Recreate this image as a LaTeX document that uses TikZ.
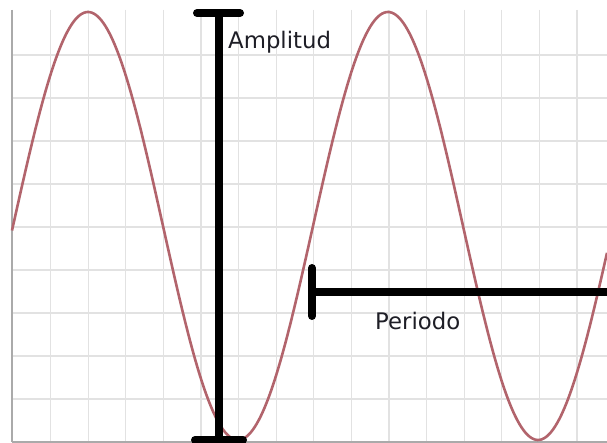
\documentclass[tikz,border=0pt]{standalone}
\usepackage{fontspec}
\setmainfont{DejaVu Sans}
\definecolor{wavecol}{RGB}{178,100,108}
\definecolor{gridcol}{RGB}{226,226,226}
\definecolor{bordercol}{RGB}{170,170,170}
\definecolor{txtcol}{RGB}{30,30,38}
\begin{document}
\begin{tikzpicture}[x=1pt,y=-1pt,
  gridline/.style={gridcol,line width=1.2pt},
  borderline/.style={bordercol,line width=1.5pt},
  wave/.style={wavecol,line width=2.6pt},
  bar/.style={black,line width=8pt},
  barcap/.style={black,line width=8pt,line cap=round},
  lbl/.style={text=txtcol,font=\fontsize{22.8}{26}\selectfont,anchor=base west,inner sep=0pt}]
\useasboundingbox (0,0) rectangle (607,443);
\fill[white] (0,0) rectangle (607,443);
% grid
\foreach \i in {1,...,15} {
  \draw[gridline] ({13+37.6*\i},10) -- ({13+37.6*\i},442);
}
\foreach \j in {1,...,9} {
  \draw[gridline] (12,{12+43*\j}) -- (607,{12+43*\j});
}
\draw[borderline] (12,10) -- (12,442);
\draw[borderline] (12,442) -- (607,442);
% wave
\draw[wave] plot[domain=12:607,samples=300,smooth] (\x,{226-214*sin(1.2*(\x-13))});
% amplitude bar
\coordinate (atop) at (219,13);
\coordinate (abot) at (219,440);
\coordinate (atl) at (197,13);
\coordinate (atr) at (240,13);
\coordinate (abl) at (195,440);
\coordinate (abr) at (243,440);
\draw[bar] (atop) -- (abot);
\draw[barcap] (atl) -- (atr);
\draw[barcap] (abl) -- (abr);
% period bar
\coordinate (pl) at (312,292);
\coordinate (pr) at (607,292);
\coordinate (pct) at (312,268);
\coordinate (pcb) at (312,316);
\draw[bar] (pl) -- (pr);
\draw[barcap] (pct) -- (pcb);
% labels
\node[lbl] (amp) at (228,49) {Amplitud};
\node[lbl] (per) at (375,329) {Periodo};
\end{tikzpicture}
\end{document}
